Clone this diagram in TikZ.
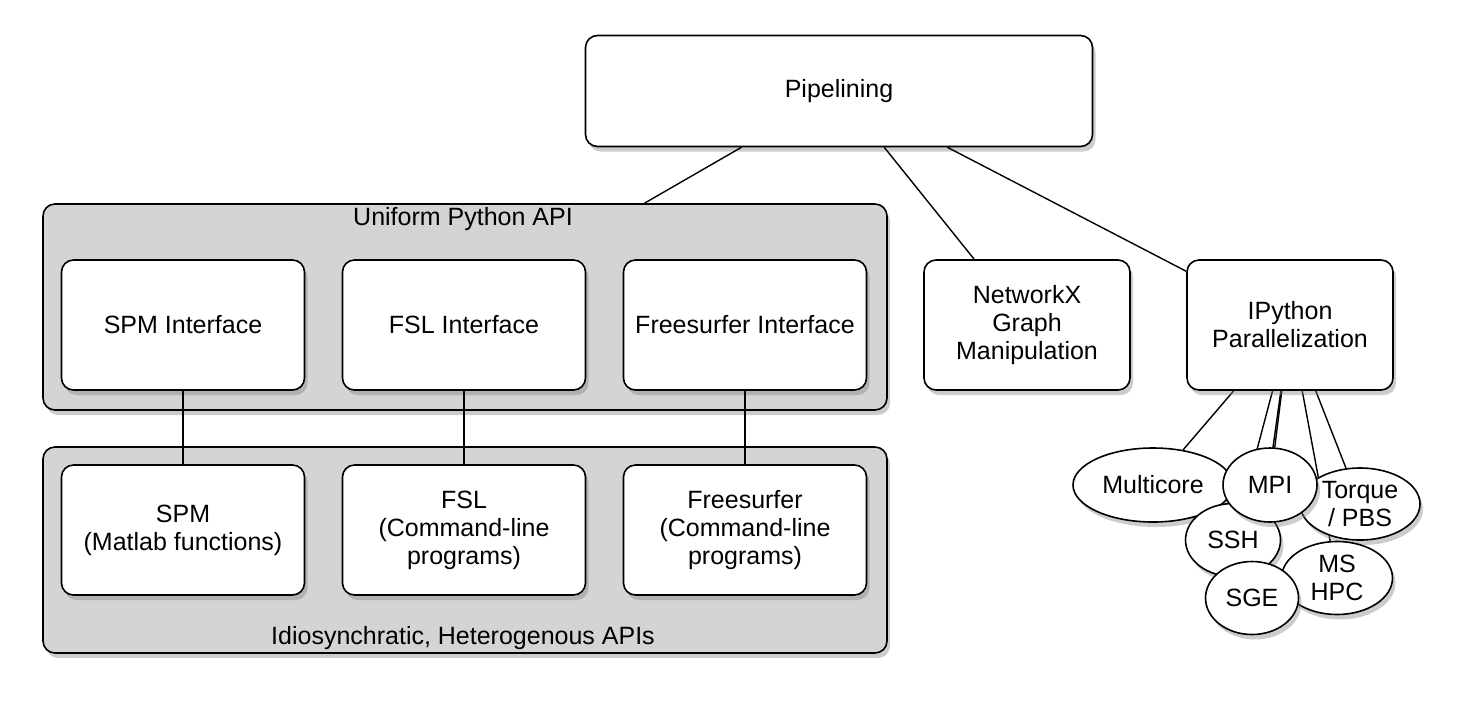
\documentclass[tikz,border=0pt]{standalone}
\usepackage{fontspec}
\setmainfont{Liberation Sans}
\usetikzlibrary{shapes.geometric,shadows,backgrounds}
\begin{document}
\begin{tikzpicture}[
    x=0.5pt, y=-0.5pt,
    every node/.style={font=\fontsize{12.5}{14}\selectfont, align=center, inner sep=0pt},
    softshadow/.style={drop shadow={shadow xshift=1.5pt, shadow yshift=-2.5pt, opacity=0.4}},
    module/.style={rectangle, rounded corners=6pt, draw, fill=white, line width=0.8pt, minimum width=121.5pt, minimum height=65pt, softshadow},
    layer/.style={rectangle, rounded corners=6pt, draw, fill=black!17, line width=0.8pt, minimum width=422pt, minimum height=103pt, softshadow},
    backend/.style={ellipse, draw, fill=white, line width=0.8pt, softshadow},
    link/.style={line width=0.7pt}
]
\useasboundingbox (0,0) rectangle (1471,703);

\node (pipe) [module, minimum width=253.5pt, minimum height=55.5pt] at (839,91) {Pipelining};

\node (uniform) [layer] at (465,307) {};
\node (uniformlabel) at (463,219) {Uniform Python API};
\node (spmif) [module] at (183,325) {SPM Interface};
\node (fslif) [module] at (464,325) {FSL Interface};
\node (fsif) [module] at (745,325) {Freesurfer Interface};

\node (native) [layer] at (465,550) {};
\node (nativelabel) at (463,638) {Idiosynchratic, Heterogenous APIs};
\node (spm) [module] at (183,530) {SPM\\(Matlab functions)};
\node (fsl) [module] at (464,530) {FSL\\(Command-line\\programs)};
\node (fs) [module] at (745,530) {Freesurfer\\(Command-line\\programs)};

\node (netx) [module, minimum width=103pt] at (1027,325) {NetworkX\\Graph\\Manipulation};
\node (ipy) [module, minimum width=103pt] at (1290,325) {IPython\\Parallelization};

\node (multi) [backend, minimum width=80pt, minimum height=37pt] at (1153,485) {Multicore};
\node (torque) [backend, minimum width=60pt, minimum height=36pt] at (1360,504) {Torque\\/ PBS};
\node (mshpc) [backend, minimum width=55.5pt, minimum height=36.5pt] at (1337,578) {MS\\HPC};
\node (ssh) [backend, minimum width=47.5pt, minimum height=36.5pt] at (1233,540) {SSH};
\node (mpi) [backend, minimum width=47pt, minimum height=37pt] at (1270,485) {MPI};
\node (sge) [backend, minimum width=46.5pt, minimum height=36.5pt] at (1252,598) {SGE};

\draw[link] (pipe) -- (uniform);
\draw[link] (pipe) -- (netx);
\draw[link] (pipe) -- (ipy);
\draw[link] (spmif) -- (spm);
\draw[link] (fslif) -- (fsl);
\draw[link] (fsif) -- (fs);

\begin{scope}[on background layer]
\foreach \target in {multi, ssh, sge, mpi, mshpc, torque}
    \draw[link] (ipy) -- (\target);
\end{scope}

\end{tikzpicture}
\end{document}
